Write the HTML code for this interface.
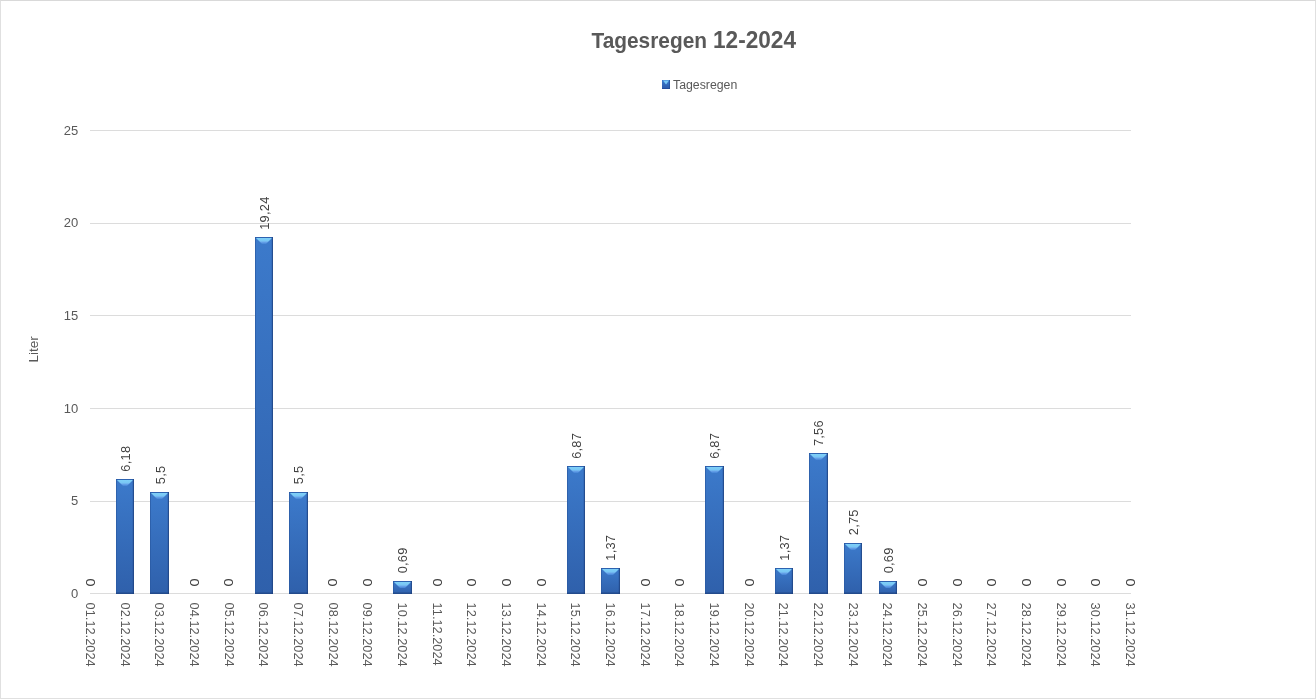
<!DOCTYPE html>
<html><head><meta charset="utf-8"><style>
html,body{margin:0;padding:0;background:#fff;}
body{width:1316px;height:699px;overflow:hidden;position:relative;}
.frame{position:absolute;left:0;top:0;width:1314px;height:697px;border:1px solid #e0e0e0;border-top-color:#d9d9d9;}
svg{position:absolute;left:0;top:0;will-change:transform;}
text{font-family:"Liberation Sans", sans-serif;}
.yl{font-size:13px;fill:#595959;}
.dl{font-size:12.8px;fill:#404040;letter-spacing:0.25px;}
.xl{font-size:12.8px;fill:#595959;}
.ti{font-weight:bold;font-size:23.2px;fill:#595959;}
.lg{font-size:12.3px;fill:#595959;}
.at{font-size:13.6px;fill:#595959;}
</style></head><body>
<div class="frame"></div>
<svg width="1316" height="699" viewBox="0 0 1316 699">
<defs>
<linearGradient id="gb" x1="0" y1="0" x2="0" y2="1">
<stop offset="0" stop-color="#3c7acb"/><stop offset="1" stop-color="#2f60ab"/>
</linearGradient>
<linearGradient id="gt" x1="0" y1="0" x2="0" y2="1">
<stop offset="0" stop-color="#7fd0f8"/><stop offset="0.5" stop-color="#78c6f4"/><stop offset="0.68" stop-color="#6aa4ea"/><stop offset="1" stop-color="#4484d6"/>
</linearGradient>
<linearGradient id="gi" x1="0" y1="0" x2="0" y2="1">
<stop offset="0" stop-color="#3b7ad0"/><stop offset="1" stop-color="#2b58a8"/>
</linearGradient>
</defs>
<text transform="translate(591.5,48) scale(1,0.97)" class="ti" textLength="115.5" lengthAdjust="spacingAndGlyphs">Tagesregen</text>
<text transform="translate(713,48) scale(1,0.999)" class="ti" textLength="83" lengthAdjust="spacingAndGlyphs">12-2024</text>
<rect x="662" y="80" width="8" height="9" fill="url(#gi)"/>
<polygon points="663,80.6 669,80.6 666,84.4" fill="#78c8f6"/>
<rect x="662" y="88" width="8" height="1" fill="#22489a" opacity="0.8"/>
<rect x="669" y="80" width="1" height="9" fill="#1f4890" opacity="0.6"/>
<text x="673" y="88.6" class="lg">Tagesregen</text>
<text transform="translate(37.9,362.6) rotate(-90)" class="at">Liter</text>
<line x1="90" y1="593.5" x2="1131" y2="593.5" stroke="#dcdcdc" stroke-width="1"/>
<line x1="90" y1="501.5" x2="1131" y2="501.5" stroke="#dcdcdc" stroke-width="1"/>
<line x1="90" y1="408.5" x2="1131" y2="408.5" stroke="#dcdcdc" stroke-width="1"/>
<line x1="90" y1="315.5" x2="1131" y2="315.5" stroke="#dcdcdc" stroke-width="1"/>
<line x1="90" y1="223.5" x2="1131" y2="223.5" stroke="#dcdcdc" stroke-width="1"/>
<line x1="90" y1="130.5" x2="1131" y2="130.5" stroke="#dcdcdc" stroke-width="1"/>
<text x="78.2" y="598.1" text-anchor="end" class="yl">0</text>
<text x="78.2" y="505.1" text-anchor="end" class="yl">5</text>
<text x="78.2" y="413.1" text-anchor="end" class="yl">10</text>
<text x="78.2" y="320.1" text-anchor="end" class="yl">15</text>
<text x="78.2" y="227.1" text-anchor="end" class="yl">20</text>
<text x="78.2" y="135.1" text-anchor="end" class="yl">25</text>
<text transform="translate(94.80,586.60) rotate(-90) scale(1.14,1)" class="dl">0</text>
<text transform="translate(86.00,602.6) rotate(90)" class="xl">01.12.2024</text>
<rect x="116.00" y="479.00" width="18" height="115.00" fill="url(#gb)"/>
<polygon points="117.00,480.00 133.00,480.00 127.00,486.00 123.00,486.00" fill="url(#gt)"/>
<rect x="116.00" y="479.00" width="18" height="1" fill="#2d62b0"/>
<rect x="132.80" y="479.00" width="1.2" height="115.00" fill="#1f4482" opacity="0.8"/>
<rect x="116.00" y="479.00" width="1" height="115.00" fill="#2a5aa3" opacity="0.7"/>
<rect x="116.00" y="592.50" width="18" height="1.5" fill="#1d3d78" opacity="0.6"/>
<text transform="translate(130.07,471.65) rotate(-90)" class="dl">6,18</text>
<text transform="translate(120.67,602.6) rotate(90)" class="xl">02.12.2024</text>
<rect x="150.00" y="492.00" width="19" height="102.00" fill="url(#gb)"/>
<polygon points="151.00,493.00 168.00,493.00 162.00,499.00 157.00,499.00" fill="url(#gt)"/>
<rect x="150.00" y="492.00" width="19" height="1" fill="#2d62b0"/>
<rect x="167.80" y="492.00" width="1.2" height="102.00" fill="#1f4482" opacity="0.8"/>
<rect x="150.00" y="492.00" width="1" height="102.00" fill="#2a5aa3" opacity="0.7"/>
<rect x="150.00" y="592.50" width="19" height="1.5" fill="#1d3d78" opacity="0.6"/>
<text transform="translate(164.74,484.24) rotate(-90)" class="dl">5,5</text>
<text transform="translate(155.34,602.6) rotate(90)" class="xl">03.12.2024</text>
<text transform="translate(198.81,586.60) rotate(-90) scale(1.14,1)" class="dl">0</text>
<text transform="translate(190.01,602.6) rotate(90)" class="xl">04.12.2024</text>
<text transform="translate(233.48,586.60) rotate(-90) scale(1.14,1)" class="dl">0</text>
<text transform="translate(224.68,602.6) rotate(90)" class="xl">05.12.2024</text>
<rect x="255.00" y="237.00" width="18" height="357.00" fill="url(#gb)"/>
<polygon points="256.00,238.00 272.00,238.00 266.00,244.00 262.00,244.00" fill="url(#gt)"/>
<rect x="255.00" y="237.00" width="18" height="1" fill="#2d62b0"/>
<rect x="271.80" y="237.00" width="1.2" height="357.00" fill="#1f4482" opacity="0.8"/>
<rect x="255.00" y="237.00" width="1" height="357.00" fill="#2a5aa3" opacity="0.7"/>
<rect x="255.00" y="592.50" width="18" height="1.5" fill="#1d3d78" opacity="0.6"/>
<text transform="translate(268.75,229.78) rotate(-90)" class="dl">19,24</text>
<text transform="translate(259.35,602.6) rotate(90)" class="xl">06.12.2024</text>
<rect x="289.00" y="492.00" width="19" height="102.00" fill="url(#gb)"/>
<polygon points="290.00,493.00 307.00,493.00 301.00,499.00 296.00,499.00" fill="url(#gt)"/>
<rect x="289.00" y="492.00" width="19" height="1" fill="#2d62b0"/>
<rect x="306.80" y="492.00" width="1.2" height="102.00" fill="#1f4482" opacity="0.8"/>
<rect x="289.00" y="492.00" width="1" height="102.00" fill="#2a5aa3" opacity="0.7"/>
<rect x="289.00" y="592.50" width="19" height="1.5" fill="#1d3d78" opacity="0.6"/>
<text transform="translate(303.42,484.24) rotate(-90)" class="dl">5,5</text>
<text transform="translate(294.02,602.6) rotate(90)" class="xl">07.12.2024</text>
<text transform="translate(337.49,586.60) rotate(-90) scale(1.14,1)" class="dl">0</text>
<text transform="translate(328.69,602.6) rotate(90)" class="xl">08.12.2024</text>
<text transform="translate(372.16,586.60) rotate(-90) scale(1.14,1)" class="dl">0</text>
<text transform="translate(363.36,602.6) rotate(90)" class="xl">09.12.2024</text>
<rect x="393.00" y="581.00" width="19" height="13.00" fill="url(#gb)"/>
<polygon points="394.00,582.00 411.00,582.00 405.00,588.00 400.00,588.00" fill="url(#gt)"/>
<rect x="393.00" y="581.00" width="19" height="1" fill="#2d62b0"/>
<rect x="410.80" y="581.00" width="1.2" height="13.00" fill="#1f4482" opacity="0.8"/>
<rect x="393.00" y="581.00" width="1" height="13.00" fill="#2a5aa3" opacity="0.7"/>
<rect x="393.00" y="592.50" width="19" height="1.5" fill="#1d3d78" opacity="0.6"/>
<text transform="translate(407.43,573.32) rotate(-90)" class="dl">0,69</text>
<text transform="translate(398.03,602.6) rotate(90)" class="xl">10.12.2024</text>
<text transform="translate(441.50,586.60) rotate(-90) scale(1.14,1)" class="dl">0</text>
<text transform="translate(432.70,602.6) rotate(90)" class="xl">11.12.2024</text>
<text transform="translate(476.17,586.60) rotate(-90) scale(1.14,1)" class="dl">0</text>
<text transform="translate(467.37,602.6) rotate(90)" class="xl">12.12.2024</text>
<text transform="translate(510.84,586.60) rotate(-90) scale(1.14,1)" class="dl">0</text>
<text transform="translate(502.04,602.6) rotate(90)" class="xl">13.12.2024</text>
<text transform="translate(545.51,586.60) rotate(-90) scale(1.14,1)" class="dl">0</text>
<text transform="translate(536.71,602.6) rotate(90)" class="xl">14.12.2024</text>
<rect x="567.00" y="466.00" width="18" height="128.00" fill="url(#gb)"/>
<polygon points="568.00,467.00 584.00,467.00 578.00,473.00 574.00,473.00" fill="url(#gt)"/>
<rect x="567.00" y="466.00" width="18" height="1" fill="#2d62b0"/>
<rect x="583.80" y="466.00" width="1.2" height="128.00" fill="#1f4482" opacity="0.8"/>
<rect x="567.00" y="466.00" width="1" height="128.00" fill="#2a5aa3" opacity="0.7"/>
<rect x="567.00" y="592.50" width="18" height="1.5" fill="#1d3d78" opacity="0.6"/>
<text transform="translate(580.78,458.87) rotate(-90)" class="dl">6,87</text>
<text transform="translate(571.38,602.6) rotate(90)" class="xl">15.12.2024</text>
<rect x="601.00" y="568.00" width="19" height="26.00" fill="url(#gb)"/>
<polygon points="602.00,569.00 619.00,569.00 613.00,575.00 608.00,575.00" fill="url(#gt)"/>
<rect x="601.00" y="568.00" width="19" height="1" fill="#2d62b0"/>
<rect x="618.80" y="568.00" width="1.2" height="26.00" fill="#1f4482" opacity="0.8"/>
<rect x="601.00" y="568.00" width="1" height="26.00" fill="#2a5aa3" opacity="0.7"/>
<rect x="601.00" y="592.50" width="19" height="1.5" fill="#1d3d78" opacity="0.6"/>
<text transform="translate(615.45,560.73) rotate(-90)" class="dl">1,37</text>
<text transform="translate(606.05,602.6) rotate(90)" class="xl">16.12.2024</text>
<text transform="translate(649.52,586.60) rotate(-90) scale(1.14,1)" class="dl">0</text>
<text transform="translate(640.72,602.6) rotate(90)" class="xl">17.12.2024</text>
<text transform="translate(684.19,586.60) rotate(-90) scale(1.14,1)" class="dl">0</text>
<text transform="translate(675.39,602.6) rotate(90)" class="xl">18.12.2024</text>
<rect x="705.00" y="466.00" width="19" height="128.00" fill="url(#gb)"/>
<polygon points="706.00,467.00 723.00,467.00 717.00,473.00 712.00,473.00" fill="url(#gt)"/>
<rect x="705.00" y="466.00" width="19" height="1" fill="#2d62b0"/>
<rect x="722.80" y="466.00" width="1.2" height="128.00" fill="#1f4482" opacity="0.8"/>
<rect x="705.00" y="466.00" width="1" height="128.00" fill="#2a5aa3" opacity="0.7"/>
<rect x="705.00" y="592.50" width="19" height="1.5" fill="#1d3d78" opacity="0.6"/>
<text transform="translate(719.46,458.87) rotate(-90)" class="dl">6,87</text>
<text transform="translate(710.06,602.6) rotate(90)" class="xl">19.12.2024</text>
<text transform="translate(753.53,586.60) rotate(-90) scale(1.14,1)" class="dl">0</text>
<text transform="translate(744.73,602.6) rotate(90)" class="xl">20.12.2024</text>
<rect x="775.00" y="568.00" width="18" height="26.00" fill="url(#gb)"/>
<polygon points="776.00,569.00 792.00,569.00 786.00,575.00 782.00,575.00" fill="url(#gt)"/>
<rect x="775.00" y="568.00" width="18" height="1" fill="#2d62b0"/>
<rect x="791.80" y="568.00" width="1.2" height="26.00" fill="#1f4482" opacity="0.8"/>
<rect x="775.00" y="568.00" width="1" height="26.00" fill="#2a5aa3" opacity="0.7"/>
<rect x="775.00" y="592.50" width="18" height="1.5" fill="#1d3d78" opacity="0.6"/>
<text transform="translate(788.80,560.73) rotate(-90)" class="dl">1,37</text>
<text transform="translate(779.40,602.6) rotate(90)" class="xl">21.12.2024</text>
<rect x="809.00" y="453.00" width="19" height="141.00" fill="url(#gb)"/>
<polygon points="810.00,454.00 827.00,454.00 821.00,460.00 816.00,460.00" fill="url(#gt)"/>
<rect x="809.00" y="453.00" width="19" height="1" fill="#2d62b0"/>
<rect x="826.80" y="453.00" width="1.2" height="141.00" fill="#1f4482" opacity="0.8"/>
<rect x="809.00" y="453.00" width="1" height="141.00" fill="#2a5aa3" opacity="0.7"/>
<rect x="809.00" y="592.50" width="19" height="1.5" fill="#1d3d78" opacity="0.6"/>
<text transform="translate(823.47,446.09) rotate(-90)" class="dl">7,56</text>
<text transform="translate(814.07,602.6) rotate(90)" class="xl">22.12.2024</text>
<rect x="844.00" y="543.00" width="18" height="51.00" fill="url(#gb)"/>
<polygon points="845.00,544.00 861.00,544.00 855.00,550.00 851.00,550.00" fill="url(#gt)"/>
<rect x="844.00" y="543.00" width="18" height="1" fill="#2d62b0"/>
<rect x="860.80" y="543.00" width="1.2" height="51.00" fill="#1f4482" opacity="0.8"/>
<rect x="844.00" y="543.00" width="1" height="51.00" fill="#2a5aa3" opacity="0.7"/>
<rect x="844.00" y="592.50" width="18" height="1.5" fill="#1d3d78" opacity="0.6"/>
<text transform="translate(858.14,535.17) rotate(-90)" class="dl">2,75</text>
<text transform="translate(848.74,602.6) rotate(90)" class="xl">23.12.2024</text>
<rect x="879.00" y="581.00" width="18" height="13.00" fill="url(#gb)"/>
<polygon points="880.00,582.00 896.00,582.00 890.00,588.00 886.00,588.00" fill="url(#gt)"/>
<rect x="879.00" y="581.00" width="18" height="1" fill="#2d62b0"/>
<rect x="895.80" y="581.00" width="1.2" height="13.00" fill="#1f4482" opacity="0.8"/>
<rect x="879.00" y="581.00" width="1" height="13.00" fill="#2a5aa3" opacity="0.7"/>
<rect x="879.00" y="592.50" width="18" height="1.5" fill="#1d3d78" opacity="0.6"/>
<text transform="translate(892.81,573.32) rotate(-90)" class="dl">0,69</text>
<text transform="translate(883.41,602.6) rotate(90)" class="xl">24.12.2024</text>
<text transform="translate(926.88,586.60) rotate(-90) scale(1.14,1)" class="dl">0</text>
<text transform="translate(918.08,602.6) rotate(90)" class="xl">25.12.2024</text>
<text transform="translate(961.55,586.60) rotate(-90) scale(1.14,1)" class="dl">0</text>
<text transform="translate(952.75,602.6) rotate(90)" class="xl">26.12.2024</text>
<text transform="translate(996.22,586.60) rotate(-90) scale(1.14,1)" class="dl">0</text>
<text transform="translate(987.42,602.6) rotate(90)" class="xl">27.12.2024</text>
<text transform="translate(1030.89,586.60) rotate(-90) scale(1.14,1)" class="dl">0</text>
<text transform="translate(1022.09,602.6) rotate(90)" class="xl">28.12.2024</text>
<text transform="translate(1065.56,586.60) rotate(-90) scale(1.14,1)" class="dl">0</text>
<text transform="translate(1056.76,602.6) rotate(90)" class="xl">29.12.2024</text>
<text transform="translate(1100.23,586.60) rotate(-90) scale(1.14,1)" class="dl">0</text>
<text transform="translate(1091.43,602.6) rotate(90)" class="xl">30.12.2024</text>
<text transform="translate(1134.90,586.60) rotate(-90) scale(1.14,1)" class="dl">0</text>
<text transform="translate(1126.10,602.6) rotate(90)" class="xl">31.12.2024</text>
</svg>
</body></html>
